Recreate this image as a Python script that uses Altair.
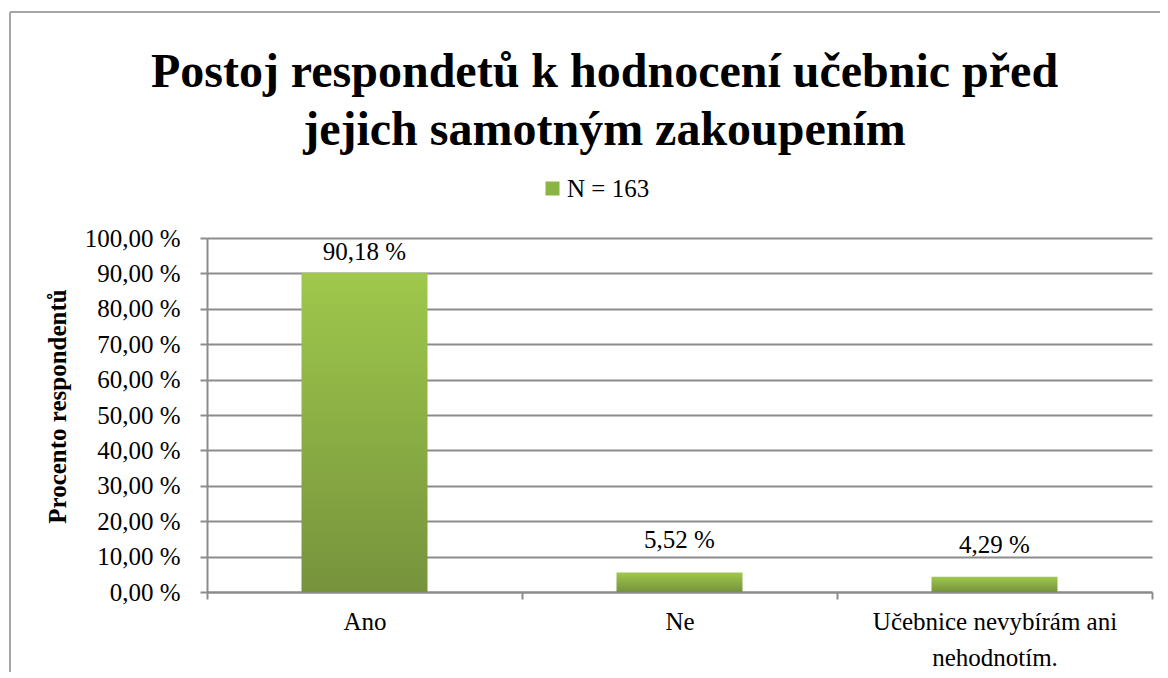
import altair as alt
import pandas as pd

categories = ["Ano", "Ne", "Učebnice nevybírám ani nehodnotím."]
percent = [90.18, 5.52, 4.29]
series_name = "N = 163"
title_lines = ["Postoj respondetů k hodnocení učebnic před", "jejich samotným zakoupením"]
y_title = "Procento respondentů"
y_ticks = [0, 10, 20, 30, 40, 50, 60, 70, 80, 90, 100]

df = pd.DataFrame({"kategorie": categories, "procento": percent, "serie": [series_name] * 3})

FONT = "'Times New Roman', 'Liberation Serif', serif"
GRID = "#8c8c8c"

grad = alt.Gradient(
    gradient="linear",
    x1=0, x2=0, y1=0, y2=1,
    stops=[alt.GradientStop(color="#9fc84c", offset=0),
           alt.GradientStop(color="#76933c", offset=1)],
)

x_enc = alt.X(
    "kategorie:N",
    sort=categories,
    scale=alt.Scale(paddingInner=0, paddingOuter=0),
    axis=alt.Axis(
        title=None, labelAngle=0, labelFont=FONT, labelFontSize=25, labelColor="#000000",
        labelPadding=10, tickBand="extent", tickSize=7, tickColor=GRID, tickWidth=2,
        domainColor=GRID, domainWidth=2, grid=False, labelLineHeight=36,
        labelBaseline="top", labelLimit=0,
        labelExpr="datum.label == 'Učebnice nevybírám ani nehodnotím.' ? ['Učebnice nevybírám ani', 'nehodnotím.'] : datum.label",
    ),
)

y_scale = alt.Scale(domain=[0, 100], nice=False)
y_axis = alt.Axis(
    values=y_ticks, tickCount=11, title=y_title, titleFont=FONT, titleFontSize=25,
    titleFontWeight="bold",
    titleColor="#000000", titleX=-142, titleY=168, titleAngle=270, titleBaseline="alphabetic",
    titleAlign="center",
    labelFont=FONT, labelFontSize=25, labelColor="#000000", labelPadding=20,
    labelOverlap=False,
    labelExpr="replace(format(datum.value, '.2f'), '.', ',') + ' %'",
    tickSize=7, tickColor=GRID, tickWidth=2, domainColor=GRID, domainWidth=2,
    gridColor=GRID, gridWidth=2,
)
y_enc = alt.Y("procento:Q", scale=y_scale, axis=y_axis)

bars = alt.Chart(df).mark_bar(color=grad, width=alt.RelativeBandSize(0.4)).encode(x=x_enc, y=y_enc)

legend_layer = alt.Chart(df).mark_square(size=0, opacity=0).encode(
    x=x_enc,
    y=y_enc,
    color=alt.Color("serie:N", scale=alt.Scale(range=["#8ab542"]),
                    legend=alt.Legend(title=None, orient="none", legendX=333, legendY=-62,
                                      symbolType="square", symbolSize=196, symbolStrokeWidth=0,
                                      symbolOpacity=1, symbolFillColor="#8ab542",
                                      labelFont=FONT, labelFontSize=25, labelColor="#000000",
                                      labelOffset=2)),
)

# data labels sit above the bar end, kept inside the plot area (as in the original)
labels = alt.Chart(df).transform_calculate(
    txt="replace(format(datum.procento, '.2f'), '.', ',') + ' %'",
    lab_y="min(datum.procento, 87)",
).mark_text(font=FONT, fontSize=25, color="#000000", baseline="bottom", dy=-19).encode(
    x=x_enc,
    y=alt.Y("lab_y:Q", scale=y_scale, axis=y_axis),
    text="txt:N",
)

frame_top = alt.Chart(df).mark_rule(color="#a6a6a6", strokeWidth=2).encode(
    x=alt.value(-197), x2=alt.value(960), y=alt.value(-226)
)
frame_left = alt.Chart(df).mark_rule(color="#a6a6a6", strokeWidth=2).encode(
    x=alt.value(-197), y=alt.value(-226), y2=alt.value(440)
)

chart = alt.layer(bars, legend_layer, labels, frame_top, frame_left).properties(
    width=945,
    height=354,
    padding={"left": 199, "top": 230, "right": 8, "bottom": 80},
    autosize=alt.AutoSizeParams(type="none"),
    title=alt.TitleParams(
        text=title_lines, font=FONT, fontSize=48, fontWeight="bold", color="#000000",
        anchor="middle", frame="group", dx=-75, offset=-144, lineHeight=58,
    ),
).configure_view(stroke=None)

chart.save("out.html", embed_options={"renderer": "svg", "actions": False})
